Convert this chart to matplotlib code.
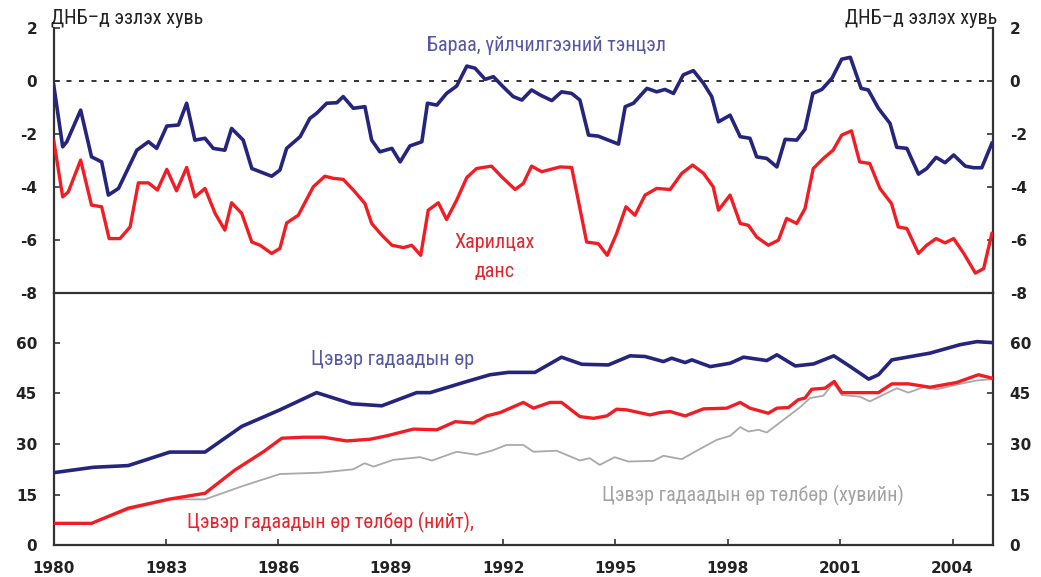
import matplotlib
matplotlib.use('Agg')
import matplotlib.pyplot as plt
from matplotlib import font_manager as fm

# ---------------- data ----------------
# Top panel: goods & services balance (% of GDP)
tb_years = [1980.0, 1980.24, 1980.35, 1980.72, 1981.01, 1981.28, 1981.46, 1981.73, 1982.22, 1982.53,
            1982.75, 1983.02, 1983.33, 1983.55, 1983.77, 1984.04, 1984.26, 1984.57, 1984.75, 1985.06,
            1985.29, 1985.51, 1985.82, 1986.04, 1986.22, 1986.58, 1986.84, 1987.02, 1987.29, 1987.56,
            1987.73, 1988.0, 1988.31, 1988.49, 1988.71, 1989.03, 1989.25, 1989.51, 1989.83, 1989.98,
            1990.23, 1990.49, 1990.76, 1991.03, 1991.25, 1991.52, 1991.74, 1992.0, 1992.27, 1992.5,
            1992.76, 1992.99, 1993.3, 1993.56, 1993.83, 1994.05, 1994.28, 1994.54, 1994.81, 1995.08,
            1995.26, 1995.48, 1995.84, 1996.1, 1996.32, 1996.55, 1996.81, 1997.08, 1997.35, 1997.57,
            1997.75, 1998.06, 1998.33, 1998.59, 1998.77, 1999.04, 1999.31, 1999.53, 1999.84, 2000.06,
            2000.27, 2000.51, 2000.78, 2001.04, 2001.27, 2001.56, 2001.75, 2002.02, 2002.33, 2002.51,
            2002.78, 2003.09, 2003.31, 2003.56, 2003.8, 2004.03, 2004.34, 2004.56, 2004.78, 2005.05]
tb_vals = [-0.16, -2.49, -2.30, -1.11, -2.87, -3.06, -4.31, -4.06, -2.62, -2.30,
           -2.55, -1.71, -1.67, -0.85, -2.24, -2.17, -2.55, -2.62, -1.80, -2.24,
           -3.31, -3.43, -3.60, -3.37, -2.55, -2.11, -1.42, -1.23, -0.85, -0.83,
           -0.60, -1.04, -0.98, -2.24, -2.68, -2.55, -3.06, -2.46, -2.30, -0.85,
           -0.92, -0.48, -0.20, 0.55, 0.47, 0.05, 0.15, -0.23, -0.60, -0.73,
           -0.35, -0.54, -0.75, -0.42, -0.48, -0.73, -2.05, -2.09, -2.24, -2.39,
           -0.98, -0.85, -0.29, -0.42, -0.33, -0.48, 0.22, 0.38, -0.10, -0.60,
           -1.55, -1.30, -2.11, -2.17, -2.87, -2.93, -3.25, -2.21, -2.24, -1.83,
           -0.48, -0.33, 0.09, 0.81, 0.88, -0.29, -0.35, -1.04, -1.61, -2.51,
           -2.55, -3.52, -3.31, -2.89, -3.09, -2.80, -3.22, -3.28, -3.28, -2.36]

# Top panel: current account (% of GDP)
ca_years = [1980.0, 1980.24, 1980.39, 1980.72, 1981.01, 1981.28, 1981.48, 1981.77, 1982.04, 1982.26,
            1982.53, 1982.77, 1983.02, 1983.28, 1983.55, 1983.77, 1984.04, 1984.31, 1984.57, 1984.75,
            1985.02, 1985.29, 1985.51, 1985.82, 1986.04, 1986.22, 1986.53, 1986.93, 1987.24, 1987.47,
            1987.73, 1988.0, 1988.31, 1988.49, 1988.76, 1989.03, 1989.34, 1989.56, 1989.8, 1990.0,
            1990.27, 1990.49, 1990.76, 1991.03, 1991.29, 1991.69, 1991.96, 1992.32, 1992.54, 1992.76,
            1993.03, 1993.52, 1993.83, 1993.97, 1994.23, 1994.54, 1994.78, 1995.03, 1995.28, 1995.52,
            1995.79, 1996.1, 1996.46, 1996.77, 1997.06, 1997.35, 1997.61, 1997.75, 1998.06, 1998.33,
            1998.55, 1998.77, 1999.08, 1999.35, 1999.57, 1999.84, 2000.06, 2000.28, 2000.55, 2000.81,
            2001.04, 2001.3, 2001.52, 2001.79, 2002.06, 2002.37, 2002.55, 2002.78, 2003.09, 2003.31,
            2003.56, 2003.8, 2004.03, 2004.3, 2004.61, 2004.83, 2005.05]
ca_vals = [-2.24, -4.38, -4.19, -2.99, -4.69, -4.75, -5.95, -5.95, -5.51, -3.85,
           -3.85, -4.12, -3.34, -4.15, -3.27, -4.38, -4.06, -5.00, -5.63, -4.60,
           -5.00, -6.08, -6.20, -6.51, -6.32, -5.36, -5.07, -4.00, -3.60, -3.68,
           -3.72, -4.12, -4.63, -5.38, -5.82, -6.20, -6.29, -6.20, -6.58, -4.88,
           -4.60, -5.23, -4.50, -3.65, -3.31, -3.22, -3.62, -4.10, -3.87, -3.22,
           -3.43, -3.25, -3.27, -4.25, -6.08, -6.14, -6.58, -5.76, -4.75, -5.07,
           -4.31, -4.06, -4.10, -3.49, -3.18, -3.49, -4.00, -4.88, -4.31, -5.38,
           -5.45, -5.89, -6.20, -6.01, -5.19, -5.38, -4.82, -3.31, -2.93, -2.62,
           -2.05, -1.89, -3.06, -3.12, -4.06, -4.63, -5.51, -5.57, -6.51, -6.20,
           -5.95, -6.11, -5.95, -6.51, -7.25, -7.08, -5.76]

# Bottom panel: net external debt (% of GDP)
nd_years = [1980.0, 1981.06, 1981.99, 1983.1, 1984.04, 1985.02, 1986.04, 1987.02, 1987.96, 1988.76,
            1989.69, 1990.05, 1991.03, 1991.65, 1992.14, 1992.85, 1993.56, 1994.1, 1994.81, 1995.39,
            1995.79, 1996.28, 1996.5, 1996.86, 1997.04, 1997.53, 1998.06, 1998.42, 1999.04, 1999.31,
            1999.8, 2000.29, 2000.83, 2001.27, 2001.76, 2002.02, 2002.38, 2003.4, 2004.2, 2004.65,
            2005.08]
nd_vals = [21.5, 23.1, 23.6, 27.6, 27.6, 35.2, 40.1, 45.2, 41.9, 41.3,
           45.2, 45.2, 48.5, 50.5, 51.2, 51.2, 55.7, 53.6, 53.4, 56.1,
           55.9, 54.4, 55.4, 54.1, 54.9, 52.9, 53.9, 55.7, 54.7, 56.4,
           53.1, 53.7, 56.1, 52.9, 49.2, 50.5, 54.9, 56.9, 59.4, 60.3,
           60.0]

# Bottom panel: net external debt service, total
ds_years = [1980.0, 1981.01, 1981.99, 1983.1, 1984.04, 1984.84, 1985.6, 1986.09, 1986.67, 1987.2,
            1987.82, 1988.45, 1988.89, 1989.6, 1990.23, 1990.72, 1991.21, 1991.56, 1991.92, 1992.54,
            1992.81, 1993.25, 1993.56, 1994.05, 1994.41, 1994.77, 1995.03, 1995.3, 1995.92, 1996.19,
            1996.46, 1996.86, 1997.35, 1997.97, 1998.33, 1998.59, 1999.08, 1999.31, 1999.62, 1999.88,
            2000.06, 2000.24, 2000.59, 2000.84, 2001.04, 2002.02, 2002.38, 2002.82, 2003.4, 2004.11,
            2004.69, 2005.05]
ds_vals = [6.5, 6.5, 11.0, 13.7, 15.4, 22.3, 27.7, 31.7, 32.0, 32.0,
           30.9, 31.4, 32.4, 34.4, 34.2, 36.6, 36.2, 38.3, 39.3, 42.3,
           40.6, 42.3, 42.3, 38.1, 37.6, 38.3, 40.3, 40.1, 38.6, 39.3,
           39.6, 38.3, 40.4, 40.6, 42.3, 40.6, 39.1, 40.6, 40.8, 43.1,
           43.6, 46.2, 46.5, 48.5, 45.2, 45.2, 47.8, 47.8, 46.8, 48.2,
           50.5, 49.5]

# Bottom panel: net external debt service, private
pd_years = [1980.0, 1981.01, 1981.99, 1983.1, 1984.04, 1985.06, 1986.04, 1987.11, 1988.0, 1988.3,
            1988.54, 1989.07, 1989.78, 1990.1, 1990.76, 1991.29, 1991.69, 1992.09, 1992.54, 1992.81,
            1993.43, 1994.05, 1994.31, 1994.58, 1994.98, 1995.34, 1996.01, 1996.28, 1996.77, 1997.17,
            1997.7, 1998.06, 1998.33, 1998.55, 1998.82, 1999.04, 1999.48, 1999.93, 2000.2, 2000.55,
            2000.82, 2001.04, 2001.53, 2001.79, 2002.14, 2002.51, 2002.82, 2003.22, 2003.58, 2004.2,
            2004.65, 2005.05]
pd_vals = [6.5, 6.5, 10.5, 13.6, 13.6, 17.6, 21.1, 21.5, 22.5, 24.3,
           23.3, 25.3, 26.1, 25.1, 27.7, 26.8, 28.0, 29.7, 29.7, 27.7,
           28.0, 25.1, 25.8, 23.8, 26.1, 24.8, 25.0, 26.5, 25.5, 28.0,
           31.2, 32.4, 35.0, 33.7, 34.2, 33.4, 37.1, 40.9, 43.6, 44.3,
           48.0, 44.5, 44.0, 42.6, 44.5, 46.5, 45.2, 46.8, 46.2, 47.8,
           48.8, 49.2]

x_ticks = [1980, 1983, 1986, 1989, 1992, 1995, 1998, 2001, 2004]
top_yticks = [2, 0, -2, -4, -6, -8]
bot_yticks = [0, 15, 30, 45, 60]

unit_label = "ДНБ–д эзлэх хувь"
lbl_tb = "Бараа, үйлчилгээний тэнцэл"
lbl_ca1 = "Харилцах"
lbl_ca2 = "данс"
lbl_nd = "Цэвэр гадаадын өр"
lbl_ds = "Цэвэр гадаадын өр төлбөр (нийт),"
lbl_pd = "Цэвэр гадаадын өр төлбөр (хувийн)"

# ---------------- fonts ----------------
names = {f.name for f in fm.fontManager.ttflist}
cond_family = None
cond_stretch = 'normal'
for c in ['Liberation Sans Narrow', 'Roboto Condensed', 'Open Sans Condensed', 'Arial Narrow']:
    if c in names:
        cond_family = c
        break
if cond_family is None:
    cond_family = 'DejaVu Sans'
    cond_stretch = 'condensed'
label_fs = 14.5
plt.rcParams['axes.unicode_minus'] = False

# ---------------- colours ----------------
C_BLUE = '#25257e'
C_RED = '#f21d24'
C_GRAY = '#a9a9a9'
C_TBLUE = '#5757a3'
C_TRED = '#e8232b'
C_TGRAY = '#a3a3a3'
C_AX = '#333333'

W, H = 1041, 577
fig = plt.figure(figsize=(W / 100, H / 100), dpi=100)
xl, xr = 53.7, 993.0
y_top, y_mid, y_bot = 27.6, 293.0, 545.3
ax1 = fig.add_axes([xl / W, 1 - y_mid / H, (xr - xl) / W, (y_mid - y_top) / H])
ax2 = fig.add_axes([xl / W, 1 - y_bot / H, (xr - xl) / W, (y_bot - y_mid) / H])

for ax in (ax1, ax2):
    ax.set_xlim(1980, 2005.08)
    for s in ax.spines.values():
        s.set_color(C_AX)
        s.set_linewidth(1.6)
    ax.spines['top'].set_visible(False)
    ax.tick_params(axis='y', which='both', direction='in', left=True, right=True,
                   labelleft=True, labelright=True, length=4.5, width=1.2, color=C_AX,
                   labelsize=11, labelcolor='#222222')
    ax.patch.set_alpha(0)

ax1.set_ylim(-8, 2)
ax2.set_ylim(0, 74.7)

ax1.set_yticks(top_yticks)
ax2.set_yticks(bot_yticks)
ax1.set_xticks([])
ax2.set_xticks(x_ticks)
ax2.tick_params(axis='x', direction='in', length=4.5, width=1.2, color=C_AX,
                labelsize=11, labelcolor='#222222', pad=11)
for ax in (ax1, ax2):
    ax.tick_params(axis='y', pad=12)
    for t in ax.get_yticklabels() + ax.get_xticklabels():
        t.set_fontweight('bold')

# zero line
ax1.axhline(0, color='#111111', lw=1.2, ls=(0, (3, 4.5)), zorder=1)

# top series
ax1.plot(ca_years, ca_vals, color=C_RED, lw=2.4, zorder=3)
ax1.plot(tb_years, tb_vals, color=C_BLUE, lw=2.6, zorder=4)

# bottom series
ax2.plot(pd_years, pd_vals, color=C_GRAY, lw=1.3, zorder=2)
ax2.plot(ds_years, ds_vals, color=C_RED, lw=2.4, zorder=3)
ax2.plot(nd_years, nd_vals, color=C_BLUE, lw=2.6, zorder=4)

tkw = dict(fontfamily=cond_family, fontstretch=cond_stretch, fontsize=label_fs)

# unit labels
fig.text(51 / W, 1 - 24 / H, unit_label, ha='left', va='baseline', color='#222222', **tkw)
fig.text(997 / W, 1 - 24 / H, unit_label, ha='right', va='baseline', color='#222222', **tkw)

# series labels
ax1.text(1993.17, 1.13, lbl_tb, ha='center', va='baseline', color=C_TBLUE, **tkw)
ax1.text(1991.78, -6.32, lbl_ca1, ha='center', va='baseline', color=C_TRED, **tkw)
ax1.text(1991.78, -7.40, lbl_ca2, ha='center', va='baseline', color=C_TRED, **tkw)
ax2.text(1989.06, 53.4, lbl_nd, ha='center', va='baseline', color=C_TBLUE, **tkw)
ax2.text(1987.40, 5.0, lbl_ds, ha='center', va='baseline', color=C_TRED, **tkw)
ax2.text(1998.66, 12.9, lbl_pd, ha='center', va='baseline', color=C_TGRAY, **tkw)

fig.savefig('out.png', dpi=100)
